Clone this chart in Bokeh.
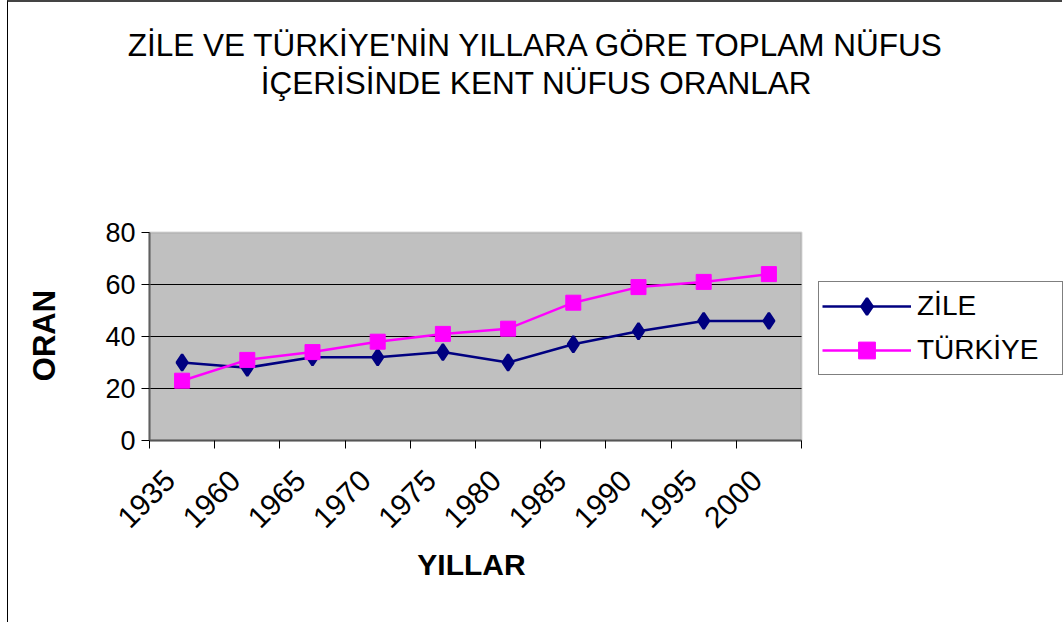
import math
from bokeh.plotting import figure
from bokeh.models import (Range1d, FixedTicker, Legend, LegendItem, Label,
                          ColumnDataSource, BoxAnnotation)
from bokeh.embed import file_html
from bokeh.resources import INLINE

# ---- data ----
years = ["1935", "1960", "1965", "1970", "1975", "1980", "1985", "1990", "1995", "2000"]
zile = [30, 28, 32, 32, 34, 30, 37, 42, 46, 46]
turkiye = [23, 31, 34, 38, 41, 43, 53, 59, 61, 64]
y_ticks = [0, 20, 40, 60, 80]
title_lines = ["ZİLE VE TÜRKİYE'NİN YILLARA GÖRE TOPLAM NÜFUS",
               "İÇERİSİNDE KENT NÜFUS ORANLAR"]
x_title = "YILLAR"
y_title = "ORAN"

FONT = "Liberation Sans"

# ---- layout ----
OX, OY = 7, 2          # where the canvas starts on the page
W, H = 1055, 622
GX0 = 148 - OX         # left edge of the gray plotting area (canvas px)
GY1 = 440 - OY         # bottom edge of the gray plotting area (canvas px)
GRAY_W = 652
GRAY_H = 208

n = len(years)
ymax = y_ticks[-1]
px_x = GRAY_W / n
px_y = GRAY_H / ymax


def dx(sx):   # page x -> data x
    return (sx - OX - GX0) / px_x


def dy(sy):   # page y -> data y
    return (GY1 - (sy - OY)) / px_y


centers = [i + 0.5 for i in range(n)]
bounds = list(range(n + 1))
label_pos = [c - 12 / px_x for c in centers]

p = figure(width=W, height=H, output_backend="svg", toolbar_location=None,
           x_range=Range1d(-GX0 / px_x, (W - GX0) / px_x),
           y_range=Range1d(-(H - GY1) / px_y, GY1 / px_y),
           min_border_left=0, min_border_right=0, min_border_top=0,
           min_border_bottom=0)
p.background_fill_color = "white"
p.border_fill_color = "white"
p.outline_line_color = None
p.styles = {"margin-left": f"{OX}px", "border-left": "1px solid black",
            "border-top": "2px solid #444444"}

# gray plotting area
p.add_layout(BoxAnnotation(left=0, right=n, bottom=0, top=ymax,
                           fill_color="#C0C0C0", fill_alpha=1,
                           line_color="#808080", line_width=2, level="underlay"))

# axes, fixed at the edges of the gray area
xa = p.xaxis[0]
xa.fixed_location = 0
xa.bounds = (0, n)
xa.ticker = FixedTicker(ticks=label_pos, minor_ticks=bounds)
xa.major_label_overrides = {c: y for c, y in zip(label_pos, years)}
xa.major_tick_line_color = None
xa.minor_tick_in = 0
xa.minor_tick_out = 8
xa.minor_tick_line_color = "black"
xa.axis_line_color = "#555555"
xa.axis_line_width = 2
xa.major_label_orientation = math.pi / 4
xa.major_label_text_font = FONT
xa.major_label_text_font_size = "30px"
xa.major_label_text_color = "black"
xa.major_label_standoff = 27

ya = p.yaxis[0]
ya.fixed_location = 0
ya.bounds = (0, ymax)
ya.ticker = FixedTicker(ticks=y_ticks)
ya.minor_tick_line_color = None
ya.major_tick_in = 0
ya.major_tick_out = 8
ya.major_tick_line_color = "black"
ya.axis_line_color = "#606060"
ya.axis_line_width = 2
ya.major_label_text_font = FONT
ya.major_label_text_font_size = "27px"
ya.major_label_text_color = "black"
ya.major_label_standoff = 6

p.xgrid.grid_line_color = None
p.ygrid.grid_line_color = None

# horizontal gridlines inside the gray area
inner = y_ticks[1:-1]
p.segment(x0=[0] * len(inner), x1=[n] * len(inner), y0=inner, y1=inner,
          line_color="black", line_width=1)

src = ColumnDataSource(dict(x=centers, zile=zile, turkiye=turkiye))

l1 = p.line("x", "zile", source=src, line_color="#000080", line_width=2.5)
m1 = p.scatter("x", "zile", source=src, marker="diamond", size=16,
               fill_color="#000080", line_color="#000080", line_width=2.5)
l2 = p.line("x", "turkiye", source=src, line_color="#FF00FF", line_width=2.5)
m2 = p.scatter("x", "turkiye", source=src, marker="square", size=15,
               fill_color="#FF00FF", line_color="#FF00FF")

legend = Legend(items=[LegendItem(label="ZİLE", renderers=[l1, m1]),
                       LegendItem(label="TÜRKİYE", renderers=[l2, m2])],
                location=(817 - OX, H - (375 - OY)), orientation="vertical",
                label_text_font=FONT, label_text_font_size="28px",
                label_text_color="black",
                glyph_width=89, glyph_height=42, label_height=42, label_width=142,
                label_standoff=6, padding=3, spacing=2, margin=0,
                border_line_color="black", border_line_width=1,
                background_fill_color="white", background_fill_alpha=1)
p.add_layout(legend, "center")

# titles
for txt, base in zip(title_lines, [44, 82]):
    p.add_layout(Label(x=dx(535), y=dy(base), text=txt, text_align="center",
                       text_baseline="alphabetic", text_font=FONT,
                       text_font_size="31.5px", text_color="black"))

p.add_layout(Label(x=dx(470), y=dy(564), text=x_title, text_align="center",
                   text_baseline="middle", text_font=FONT, text_font_size="30px",
                   text_font_style="bold", text_color="black"))
p.add_layout(Label(x=dx(43), y=dy(335), text=y_title, angle=math.pi / 2,
                   text_align="center", text_baseline="middle", text_font=FONT,
                   text_font_size="31px", text_font_style="bold",
                   text_color="black"))

open("out.html", "w").write(file_html(p, INLINE))
